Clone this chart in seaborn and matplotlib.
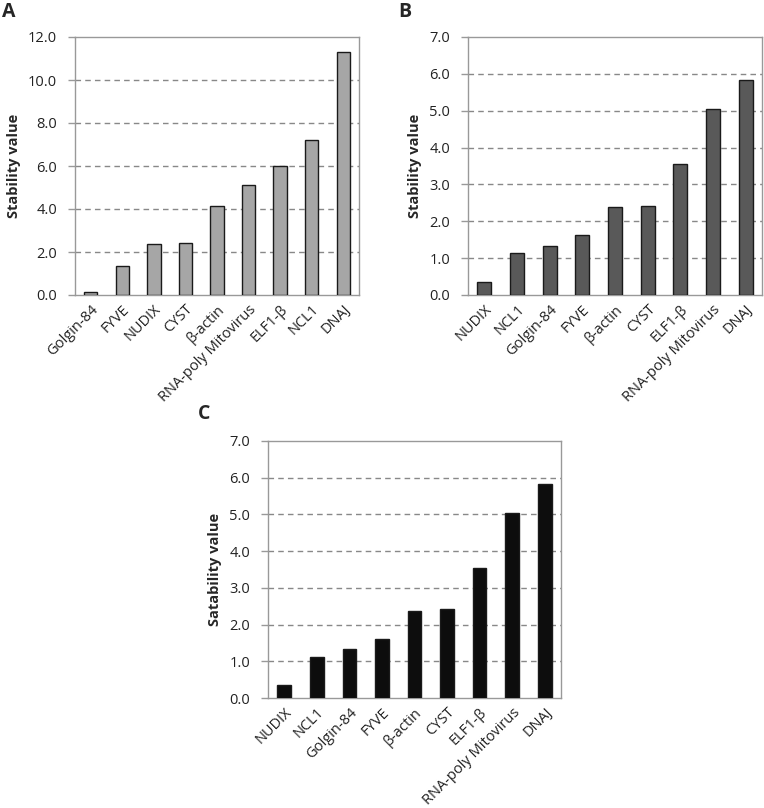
import numpy as np
import pandas as pd
import matplotlib
matplotlib.use('Agg')
import matplotlib.pyplot as plt
import seaborn as sns

sns.set_style('white')
plt.rcParams['font.family'] = ['Open Sans', 'DejaVu Sans']

# data
genes_a = ['Golgin-84', 'FYVE', 'NUDIX', 'CYST', 'β-actin', 'RNA-poly Mitovirus', 'ELF1-β', 'NCL1', 'DNAJ']
values_a = [0.15, 1.35, 2.35, 2.40, 4.15, 5.12, 6.00, 7.20, 11.30]

genes_b = ['NUDIX', 'NCL1', 'Golgin-84', 'FYVE', 'β-actin', 'CYST', 'ELF1-β', 'RNA-poly Mitovirus', 'DNAJ']
values_b = [0.35, 1.13, 1.33, 1.62, 2.38, 2.42, 3.55, 5.05, 5.82]

genes_c = ['NUDIX', 'NCL1', 'Golgin-84', 'FYVE', 'β-actin', 'CYST', 'ELF1-β', 'RNA-poly Mitovirus', 'DNAJ']
values_c = [0.35, 1.13, 1.33, 1.62, 2.38, 2.42, 3.55, 5.05, 5.82]

W, H = 764, 808
fig = plt.figure(figsize=(W / 100, H / 100), dpi=100)


def panel(rect_px, genes, vals, color, ymax, step, ylabel, letter, letter_xy):
    x0, y0, x1, y1 = rect_px
    ax = fig.add_axes([x0 / W, 1 - y1 / H, (x1 - x0) / W, (y1 - y0) / H])
    df = pd.DataFrame({'gene': genes, 'val': vals})
    sns.barplot(data=df, x='gene', y='val', color=color, edgecolor='#1a1a1a',
                linewidth=1.0, width=0.42, saturation=1, ax=ax, zorder=3)
    ax.set_ylim(0, ymax)
    ax.set_xlim(-0.5, len(genes) - 0.5)
    ticks = np.arange(0, ymax + step / 2, step)
    ax.set_yticks(ticks)
    ax.set_yticklabels([f'{t:.1f}' for t in ticks], fontsize=10.5, color='#222222')
    for t in ticks[1:-1]:
        ax.axhline(t, color='#888888', linestyle=(0, (4, 3)), linewidth=1.0, zorder=1)
    ax.set_xticks(range(len(genes)))
    ax.set_xticklabels(genes, rotation=45, ha='right', rotation_mode='anchor',
                       fontsize=10.5, color='#222222')
    ax.tick_params(axis='x', length=0, pad=5)
    ax.tick_params(axis='y', length=5, width=1, color='#999999', direction='out', pad=8, left=True)
    ax.set_xlabel('')
    ax.set_ylabel(ylabel, fontsize=10.5, fontweight='bold', labelpad=5)
    for s in ax.spines.values():
        s.set_color('#999999')
        s.set_linewidth(1.0)
        s.set_visible(True)
    fig.text(letter_xy[0] / W, 1 - letter_xy[1] / H, letter, fontsize=14,
             fontweight='bold', ha='left', va='center')
    return ax


panel((75, 37, 359, 295), genes_a, values_a, '#a6a6a6', 12.0, 2.0,
      'Stability value', 'A', (2, 12))
panel((468, 37, 762, 295), genes_b, values_b, '#595959', 7.0, 1.0,
      'Stability value', 'B', (398, 12))
panel((268, 441, 561, 698), genes_c, values_c, '#0d0d0d', 7.0, 1.0,
      'Satability value', 'C', (198, 414))

fig.savefig('out.png', dpi=100, facecolor='white')
